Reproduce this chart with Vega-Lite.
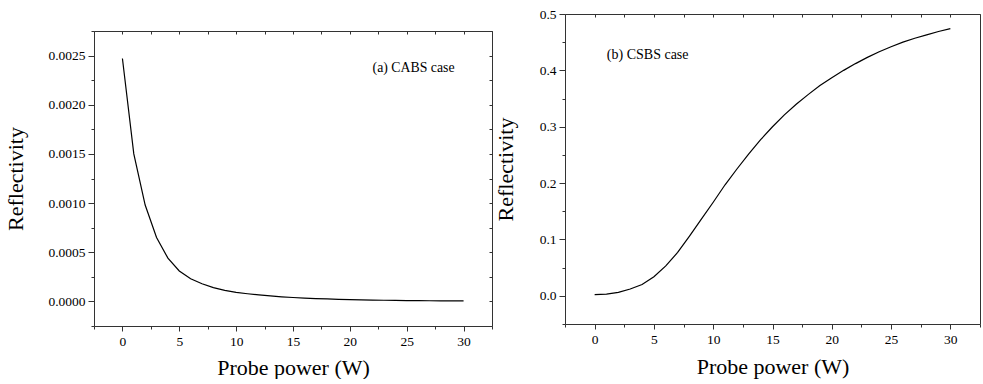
{
  "$schema": "https://vega.github.io/schema/vega-lite/v6.json",
  "padding": {"left": 4, "top": 6, "right": 0, "bottom": 0},
  "background": "white",
  "align": "none",
  "bounds": "full",
  "spacing": 0,
  "config": {
    "font": "Liberation Serif",
    "view": {"stroke": "#333", "strokeWidth": 1},
    "axis": {
      "labelFont": "Liberation Serif",
      "titleFont": "Liberation Serif",
      "labelFontSize": 13.5,
      "titleFontSize": 22,
      "titleFontWeight": "normal",
      "labelColor": "#000",
      "titleColor": "#000",
      "domain": false,
      "tickColor": "#333",
      "grid": false,
      "labelFlush": false,
      "labelOverlap": false
    },
    "text": {"font": "Liberation Serif"}
  },
  "datasets": {
    "cabs": [
      {"P": 0, "R": 0.00247}, {"P": 1, "R": 0.0015}, {"P": 2, "R": 0.00098}, {"P": 3, "R": 0.00065},
      {"P": 4, "R": 0.00044}, {"P": 5, "R": 0.00031}, {"P": 6, "R": 0.00023}, {"P": 7, "R": 0.00018},
      {"P": 8, "R": 0.00014}, {"P": 9, "R": 0.000112}, {"P": 10, "R": 0.000092}, {"P": 11, "R": 0.000078},
      {"P": 12, "R": 0.000066}, {"P": 13, "R": 0.000056}, {"P": 14, "R": 0.000047}, {"P": 15, "R": 0.00004},
      {"P": 16, "R": 0.000034}, {"P": 17, "R": 0.000029}, {"P": 18, "R": 0.000025}, {"P": 19, "R": 0.000021},
      {"P": 20, "R": 0.000018}, {"P": 21, "R": 0.000016}, {"P": 22, "R": 0.000014}, {"P": 23, "R": 0.000012},
      {"P": 24, "R": 0.00001}, {"P": 25, "R": 0.000009}, {"P": 26, "R": 0.000008}, {"P": 27, "R": 0.000007},
      {"P": 28, "R": 0.000006}, {"P": 29, "R": 0.000005}, {"P": 30, "R": 0.000005}
    ],
    "csbs": [
      {"P": 0, "R": 0.002}, {"P": 1, "R": 0.003}, {"P": 2, "R": 0.006}, {"P": 3, "R": 0.012},
      {"P": 4, "R": 0.02}, {"P": 5, "R": 0.034}, {"P": 6, "R": 0.053}, {"P": 7, "R": 0.077},
      {"P": 8, "R": 0.106}, {"P": 9, "R": 0.136}, {"P": 10, "R": 0.166}, {"P": 11, "R": 0.197},
      {"P": 12, "R": 0.225}, {"P": 13, "R": 0.252}, {"P": 14, "R": 0.277}, {"P": 15, "R": 0.3},
      {"P": 16, "R": 0.321}, {"P": 17, "R": 0.34}, {"P": 18, "R": 0.357}, {"P": 19, "R": 0.373},
      {"P": 20, "R": 0.387}, {"P": 21, "R": 0.4}, {"P": 22, "R": 0.412}, {"P": 23, "R": 0.423},
      {"P": 24, "R": 0.433}, {"P": 25, "R": 0.442}, {"P": 26, "R": 0.45}, {"P": 27, "R": 0.457},
      {"P": 28, "R": 0.463}, {"P": 29, "R": 0.469}, {"P": 30, "R": 0.474}
    ],
    "labA": [{"P": 22, "R": 0.00237, "label": "(a) CABS case"}],
    "labB": [{"P": 1.03, "R": 0.428, "label": "(b) CSBS case"}]
  },
  "hconcat": [
    {
      "vconcat": [
        {
          "width": 398,
          "height": 17,
          "view": {"stroke": null},
          "data": {"values": []},
          "mark": "point",
          "encoding": {}
        },
        {
          "width": 398,
          "height": 295,
          "resolve": {"axis": {"x": "independent", "y": "independent"}},
          "layer": [
            {
              "data": {"name": "cabs"},
              "mark": {"type": "line", "color": "#000", "strokeWidth": 1.2},
              "encoding": {
                "x": {
                  "field": "P", "type": "quantitative",
                  "scale": {"domain": [-2.5, 32.5], "nice": false, "zero": false},
                  "axis": {
                    "orient": "bottom",
                    "title": "Probe power (W)",
                    "labelFont": "Liberation Serif",
                    "values": [-2.5, 0, 2.5, 5, 7.5, 10, 12.5, 15, 17.5, 20, 22.5, 25, 27.5, 30, 32.5],
                    "labelExpr": "datum.value % 5 === 0 ? datum.label : ''",
                    "tickSize": {"condition": {"test": "datum.value % 5 === 0", "value": 5}, "value": 3},
                    "labelPadding": 3,
                    "titlePadding": 10
                  }
                },
                "y": {
                  "field": "R", "type": "quantitative",
                  "scale": {"domain": [-0.00025, 0.00275], "nice": false, "zero": false},
                  "axis": {
                    "orient": "left",
                    "title": "Reflectivity",
                    "labelFont": "Liberation Serif",
                    "format": ".4f",
                    "values": [-0.00025, 0, 0.00025, 0.0005, 0.00075, 0.001, 0.00125, 0.0015, 0.00175, 0.002, 0.00225, 0.0025, 0.00275],
                    "labelExpr": "abs(round(datum.value * 10000) % 5) === 0 ? datum.label : ''",
                    "tickSize": {"condition": {"test": "abs(round(datum.value * 10000) % 5) === 0", "value": 6}, "value": 3},
                    "labelPadding": 3,
                    "titlePadding": 20
                  }
                }
              }
            },
            {
              "data": {"name": "labA"},
              "mark": {"type": "text", "align": "left", "baseline": "middle", "fontSize": 13.8, "color": "#000", "font": "Liberation Serif"},
              "encoding": {
                "text": {"field": "label"},
                "x": {
                  "field": "P", "type": "quantitative",
                  "scale": {"domain": [-2.5, 32.5], "nice": false, "zero": false},
                  "axis": {
                    "orient": "top", "title": null, "labels": false, "tickSize": -3,
                    "values": [-2.5, 0, 2.5, 5, 7.5, 10, 12.5, 15, 17.5, 20, 22.5, 25, 27.5, 30, 32.5]
                  }
                },
                "y": {
                  "field": "R", "type": "quantitative",
                  "scale": {"domain": [-0.00025, 0.00275], "nice": false, "zero": false},
                  "axis": {
                    "orient": "right", "title": null, "labels": false, "tickSize": -3,
                    "values": [-0.00025, 0, 0.00025, 0.0005, 0.00075, 0.001, 0.00125, 0.0015, 0.00175, 0.002, 0.00225, 0.0025, 0.00275]
                  }
                }
              }
            }
          ]
        }
      ],
      "spacing": 0,
      "bounds": "flush"
    },
    {
      "width": 415,
      "height": 310,
      "resolve": {"axis": {"x": "independent", "y": "independent"}},
      "layer": [
        {
          "data": {"name": "csbs"},
          "mark": {"type": "line", "color": "#000", "strokeWidth": 1.2},
          "encoding": {
            "x": {
              "field": "P", "type": "quantitative",
              "scale": {"domain": [-2.5, 32.5], "nice": false, "zero": false},
              "axis": {
                "orient": "bottom",
                "title": "Probe power (W)",
                "labelFont": "Liberation Serif",
                "values": [-2.5, 0, 2.5, 5, 7.5, 10, 12.5, 15, 17.5, 20, 22.5, 25, 27.5, 30, 32.5],
                "labelExpr": "datum.value % 5 === 0 ? datum.label : ''",
                "tickSize": {"condition": {"test": "datum.value % 5 === 0", "value": 5}, "value": 3},
                "labelPadding": 3,
                "titlePadding": 11
              }
            },
            "y": {
              "field": "R", "type": "quantitative",
              "scale": {"domain": [-0.05, 0.5], "nice": false, "zero": false},
              "axis": {
                "orient": "left",
                "title": "Reflectivity",
                "labelFont": "Liberation Serif",
                "format": ".1f",
                "values": [-0.05, 0, 0.05, 0.1, 0.15, 0.2, 0.25, 0.3, 0.35, 0.4, 0.45, 0.5],
                "labelExpr": "abs(round(datum.value * 100) % 10) === 0 ? datum.label : ''",
                "tickSize": {"condition": {"test": "abs(round(datum.value * 100) % 10) === 0", "value": 6}, "value": 3},
                "labelPadding": 3,
                "titlePadding": 22
              }
            }
          }
        },
        {
          "data": {"name": "labB"},
          "mark": {"type": "text", "align": "left", "baseline": "middle", "fontSize": 14, "color": "#000", "font": "Liberation Serif"},
          "encoding": {
            "text": {"field": "label"},
            "x": {
              "field": "P", "type": "quantitative",
              "scale": {"domain": [-2.5, 32.5], "nice": false, "zero": false},
              "axis": {
                "orient": "top", "title": null, "labels": false, "tickSize": -3,
                "values": [-2.5, 0, 2.5, 5, 7.5, 10, 12.5, 15, 17.5, 20, 22.5, 25, 27.5, 30, 32.5]
              }
            },
            "y": {
              "field": "R", "type": "quantitative",
              "scale": {"domain": [-0.05, 0.5], "nice": false, "zero": false},
              "axis": null
            }
          }
        }
      ]
    }
  ]
}
